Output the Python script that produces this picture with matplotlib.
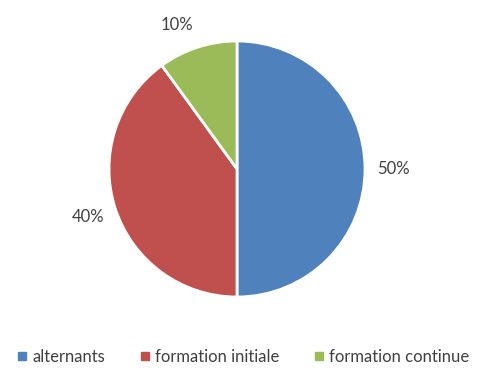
import matplotlib.pyplot as plt
from matplotlib.lines import Line2D

labels = ["alternants", "formation initiale", "formation continue"]
values = [50, 40, 10]
colors = ["#4F81BD", "#C0504D", "#9BBB59"]

plt.rcParams['font.family'] = ['Lato', 'DejaVu Sans']
txtColor = "#404040"

fig = plt.figure(figsize=(4.98, 3.77), dpi=100)
# pie centre (237,169) px, radius 128 px
ax = fig.add_axes([(237 - 128) / 498, (377 - 169 - 128) / 377, 256 / 498, 256 / 377])
wedges, texts, autotexts = ax.pie(values, colors=colors, startangle=90, counterclock=False,
       autopct="%d%%", pctdistance=1.22, radius=1,
       wedgeprops=dict(edgecolor="white", linewidth=2),
       textprops=dict(color=txtColor, fontsize=12))
# the small slice label sits further left in the reference
px, py = autotexts[2].get_position()
autotexts[2].set_position((px * 1.25, py * 0.97))
ax.set_xlim(-1, 1)
ax.set_ylim(-1, 1)
ax.set_aspect("equal")
ax.axis("off")

handles = [Line2D([], [], marker="s", linestyle="none", markersize=6,
                  markerfacecolor=c, markeredgecolor=c) for c in colors]
fig.legend(handles, labels, loc="center", bbox_to_anchor=(0.487, 0.053), ncol=3,
           frameon=False, fontsize=12, labelcolor=txtColor,
           handletextpad=0.2, columnspacing=2.0, handlelength=0.8)

fig.savefig("out.png", dpi=100)
